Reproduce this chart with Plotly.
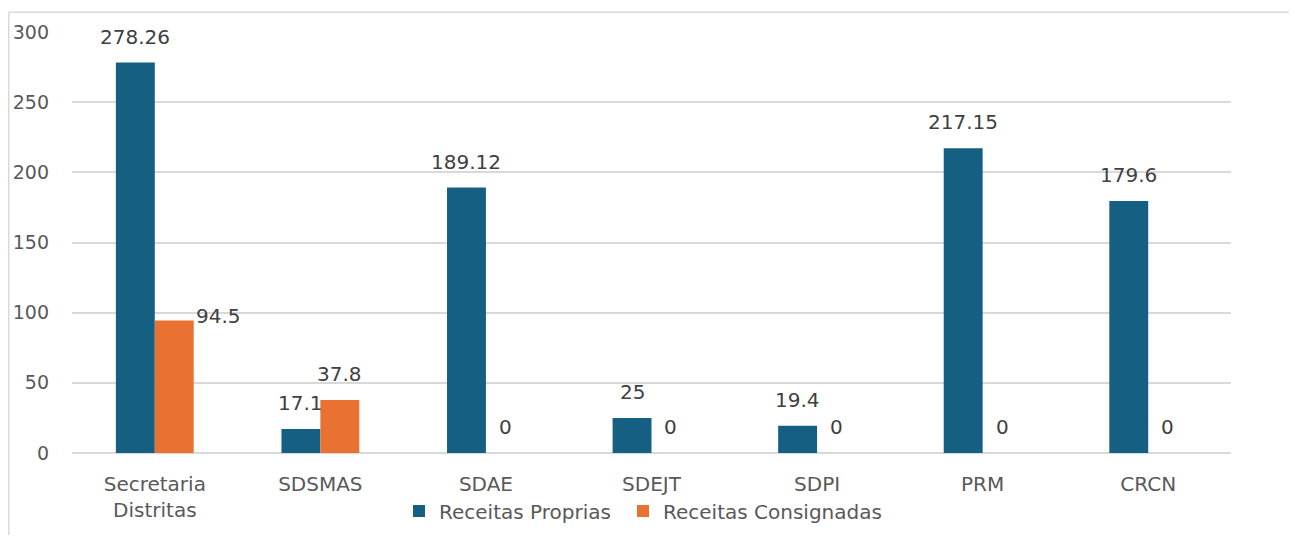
import plotly.graph_objects as go

categories = ["Secretaria<br>Distritas", "SDSMAS", "SDAE", "SDEJT", "SDPI", "PRM", "CRCN"]
receitas_proprias = [278.26, 17.1, 189.12, 25, 19.4, 217.15, 179.6]
receitas_consignadas = [94.5, 37.8, 0, 0, 0, 0, 0]
series_names = ["Receitas Proprias", "Receitas Consignadas"]
y_ticks = [0, 50, 100, 150, 200, 250, 300]

BLUE = "#156082"
ORANGE = "#E97132"
FONT = "DejaVu Sans"

# page has an 8px body margin, so the figure is drawn 8px in from the corner
W, H = 1281, 527
ML, MT = 64, 24
PW, PH = 1159, 421
MR, MB = W - ML - PW, H - MT - PH

fig = go.Figure()
fig.add_trace(go.Bar(x=categories, y=receitas_proprias, name=series_names[0],
                     marker=dict(color=BLUE, line=dict(width=0)), legend="legend"))
fig.add_trace(go.Bar(x=categories, y=receitas_consignadas, name=series_names[1],
                     marker=dict(color=ORANGE, line=dict(width=0)), legend="legend2"))

bar_px = PW / len(categories) * (1 - 0.53) / 2
for si, vals in enumerate([receitas_proprias, receitas_consignadas]):
    for ci, v in enumerate(vals):
        xs = (-0.5 if si == 0 else 0.5) * bar_px
        ys = 26
        if si == 1 and ci == 0:
            xs, ys = bar_px * 0.5 + 44, 4
        fig.add_annotation(x=categories[ci], y=v, text=f"{v:g}", showarrow=False,
                           xref="x", yref="y", xshift=xs, yshift=ys,
                           yanchor="middle", xanchor="center",
                           font=dict(family=FONT, size=20, color="#404040"))

def px_x(p):
    return (p - ML) / PW

def px_y(p):
    return (H - MB - p) / PH

frame = dict(color="#d9d9d9", width=1.5)
fig.add_shape(type="line", xref="paper", yref="paper", x0=px_x(0.75), x1=px_x(0.75),
              y0=px_y(4.3), y1=px_y(H + 5), line=frame)
fig.add_shape(type="line", xref="paper", yref="paper", x0=px_x(0.75), x1=px_x(W + 5),
              y0=px_y(4.3), y1=px_y(4.3), line=frame)

leg_common = dict(orientation="h", xanchor="left", y=px_y(503), yanchor="middle",
                  font=dict(family=FONT, size=20, color="#595959"), itemwidth=30,
                  bgcolor="rgba(0,0,0,0)")

fig.update_layout(
    width=W, height=H,
    margin=dict(l=ML, r=MR, t=MT, b=MB, autoexpand=False),
    barmode="group", bargap=0.53, bargroupgap=0,
    plot_bgcolor="white", paper_bgcolor="white",
    font=dict(family=FONT, color="#595959", size=20),
    showlegend=True,
    legend=dict(x=px_x(415 - 8 - 16), **leg_common),
    legend2=dict(x=px_x(639 - 8 - 16), **leg_common),
    xaxis=dict(showgrid=False, showline=False, ticks="", tickfont=dict(size=20),
               ticklabelstandoff=17, automargin=False),
    yaxis=dict(range=[0, 300], tickvals=y_ticks, showgrid=True, gridcolor="#d9d9d9",
               gridwidth=1.5, zeroline=True, zerolinecolor="#d9d9d9", zerolinewidth=1.5,
               showline=False, ticks="", tickfont=dict(size=19), ticklabelstandoff=22,
               automargin=False),
)

fig.write_html("out.html")
